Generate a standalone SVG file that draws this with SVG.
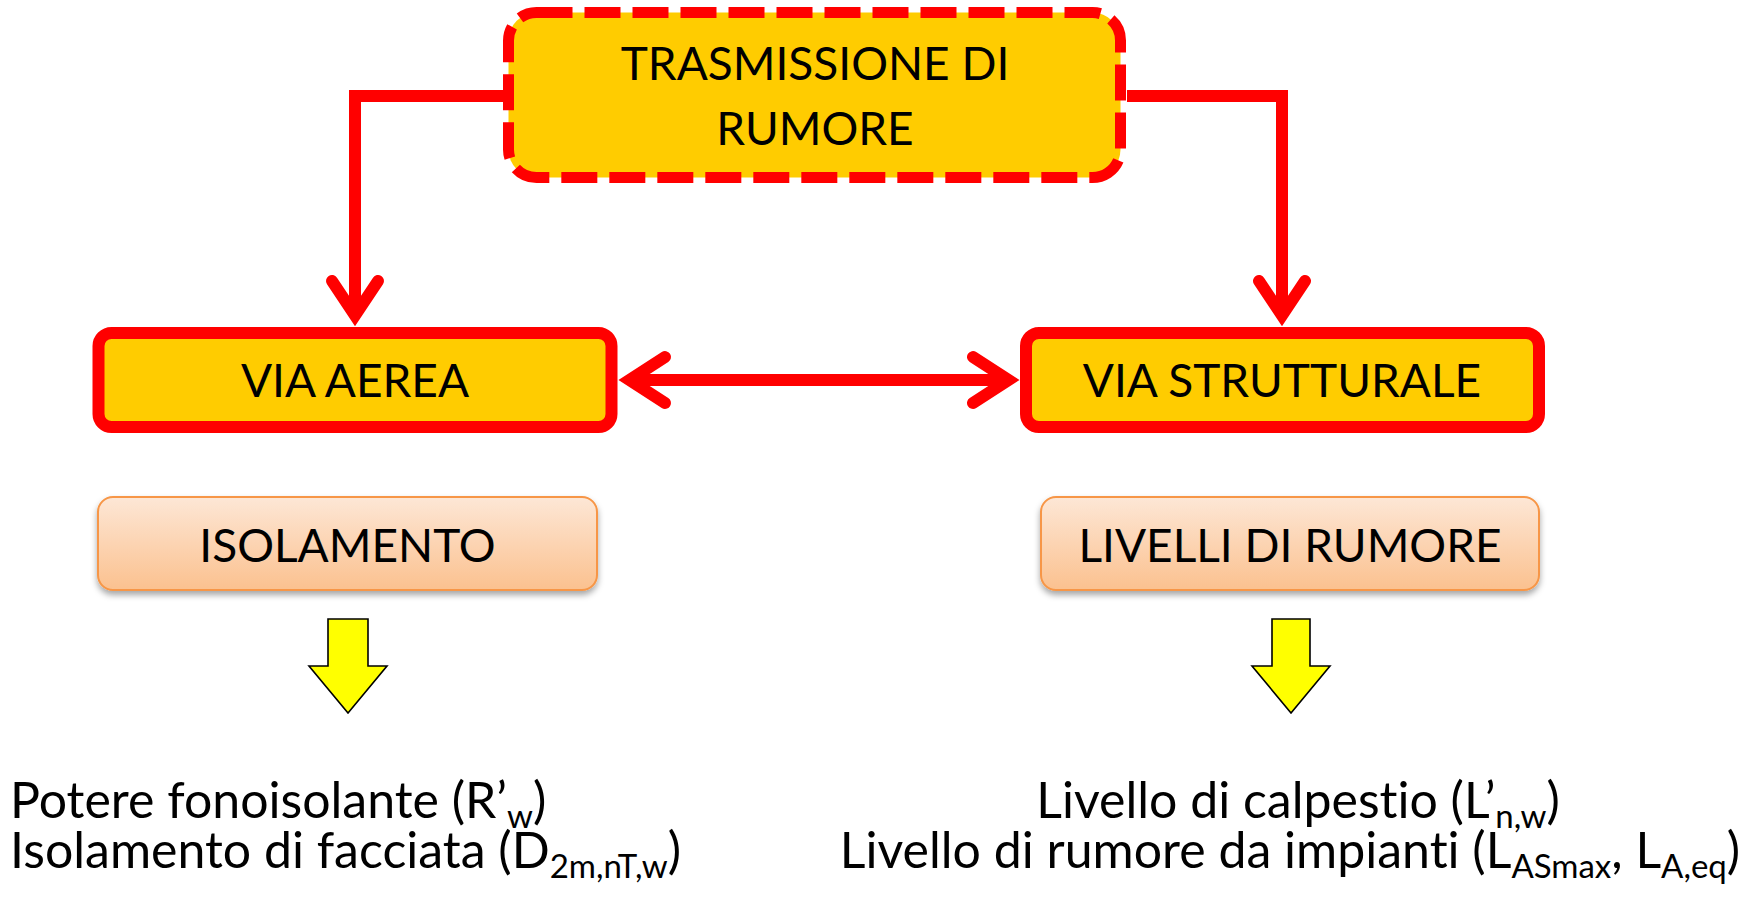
<svg xmlns="http://www.w3.org/2000/svg" width="1754" height="899" viewBox="0 0 1754 899">
<defs>
<linearGradient id="peach" x1="0" y1="0" x2="0" y2="1">
<stop offset="0" stop-color="#FDE7D6"/>
<stop offset="1" stop-color="#FBC18F"/>
</linearGradient>
<filter id="shadow" x="-10%" y="-20%" width="120%" height="160%">
<feDropShadow dx="0" dy="4" stdDeviation="3" flood-color="#000" flood-opacity="0.35"/>
</filter>
</defs>
<style>
text{font-family:Lato,"Open Sans","Liberation Sans",sans-serif;fill:#000;font-variant-ligatures:none;font-feature-settings:"liga" 0;}
.t{font-size:46px;text-anchor:middle;}
.b{font-size:50px;}
.sub{font-size:33px;}
.main{fill:#FFCC00;stroke:#FF0000;stroke-width:12;}
.peach{fill:url(#peach);stroke:#F79646;stroke-width:2;filter:url(#shadow);}
.line{fill:none;stroke:#FF0000;stroke-width:12;stroke-linejoin:miter;}
.head{fill:none;stroke:#FF0000;stroke-width:12;stroke-linecap:round;stroke-linejoin:miter;stroke-miterlimit:10;}
.yarrow{fill:#FFFF00;stroke:#000;stroke-width:1.6;stroke-linejoin:miter;}
</style>
<rect width="1754" height="899" fill="#FFFFFF"/>
<g id="connectors">
<path class="line" d="M503 96 H355 V312"/>
<path class="head" d="M332 281 L355 315.5 L378 281"/>
<path class="line" d="M1127 96 H1282 V312"/>
<path class="head" d="M1259 281 L1282 315.5 L1305 281"/>
<path class="line" d="M632 380 H1006"/>
<path class="head" d="M665 357 L629.5 380 L665 403"/>
<path class="head" d="M973 357 L1008.5 380 L973 403"/>
</g>
<g id="trasmissione">
<rect x="508.5" y="12.5" width="612" height="165" rx="28" fill="#FFCC00" stroke="#FF0000" stroke-width="11" stroke-dasharray="36 12"/>
<text class="t" x="815" y="80">TRASMISSIONE DI</text>
<text class="t" x="815" y="145">RUMORE</text>
</g>
<g id="via-aerea">
<rect class="main" x="98.5" y="333" width="513" height="94" rx="13"/>
<text class="t" x="355" y="397">VIA AEREA</text>
</g>
<g id="via-strutturale">
<rect class="main" x="1026" y="333" width="513" height="94" rx="13"/>
<text class="t" x="1282" y="397">VIA STRUTTURALE</text>
</g>
<g id="isolamento">
<rect class="peach" x="98" y="497" width="499" height="93" rx="15"/>
<text class="t" x="347.5" y="562">ISOLAMENTO</text>
</g>
<g id="livelli">
<rect class="peach" x="1041" y="497" width="498" height="93" rx="15"/>
<text class="t" x="1290" y="562">LIVELLI DI RUMORE</text>
</g>
<g id="arrow-left">
<polygon class="yarrow" points="328,619 368,619 368,666 387,666 348,713 309,666 328,666"/>
</g>
<g id="arrow-right">
<polygon class="yarrow" points="1272,619 1310,619 1310,666 1330,666 1291,713 1252,666 1272,666"/>
</g>
<g id="left-text">
<text class="b" x="10" y="818">Potere fonoisolante (R’<tspan class="sub" dy="10">w</tspan><tspan dy="-10">)</tspan></text>
<text class="b" x="10" y="868">Isolamento di facciata (D<tspan class="sub" dy="10">2m,nT,w</tspan><tspan dy="-10">)</tspan></text>
</g>
<g id="right-text">
<text class="b" x="1298" y="818" text-anchor="middle">Livello di calpestio (L’<tspan class="sub" dy="10">n,w</tspan><tspan dy="-10">)</tspan></text>
<text class="b" x="1290" y="868" text-anchor="middle">Livello di rumore da impianti (L<tspan class="sub" dy="10">ASmax</tspan><tspan dy="-10">, L</tspan><tspan class="sub" dy="10">A,eq</tspan><tspan dy="-10">)</tspan></text>
</g>
</svg>
